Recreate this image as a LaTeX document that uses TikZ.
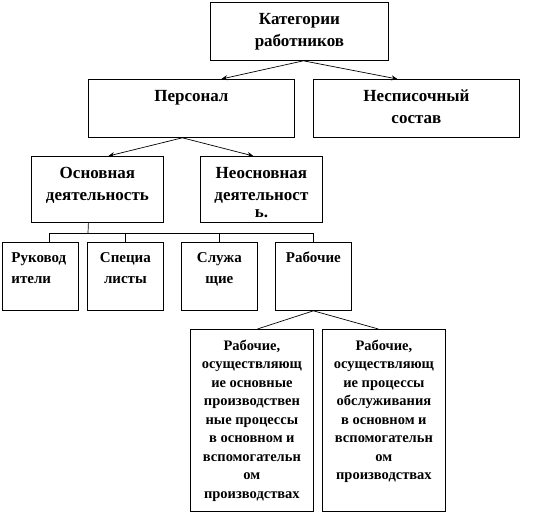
\documentclass[tikz,border=0pt]{standalone}
\usepackage{fontspec}
\setmainfont{Liberation Serif}
\usetikzlibrary{arrows.meta}
\newcommand\bt[5]{\parbox[t][#2pt][t]{#1pt}{#4\vspace*{#3pt}\strut #5}}
\newcommand\fA{\fontsize{17}{22}\selectfont\bfseries\centering}
\newcommand\fB{\fontsize{15}{21}\selectfont\bfseries\centering}
\newcommand\fC{\fontsize{14.5}{18.5}\selectfont\bfseries\centering}
\newcommand\fL{\fontsize{15}{21}\selectfont\bfseries\raggedright\leftskip=9pt}
\tikzset{
  box/.style={draw, line width=0.8pt, inner sep=0pt, anchor=north west},
  conn/.style={line width=0.7pt},
  arr/.style={conn, -{Stealth[length=6pt,width=5pt]}}
}
\begin{document}
\begin{tikzpicture}[x=1pt,y=-1pt]
\useasboundingbox (0,0) rectangle (534,515);
\node[box] (cat) at (210,2) {\bt{178}{58}{6.5}{\fA}{Категории\\работников}};
\node[box] (pers) at (88,79) {\bt{206}{58}{6.5}{\fA}{Персонал}};
\node[box] (nesp) at (313,79) {\bt{206}{58}{6.5}{\fA}{Несписочный\\состав}};
\node[box] (osn) at (31,156) {\bt{132}{66}{6.5}{\fA}{Основная\\деятельность}};
\node[box] (neosn) at (200,156) {\bt{122}{66}{6.5}{\fA}{Неосновная\\деятельност\\[-5pt]ь.}};
\node[box] (ruk) at (2,242) {\bt{76}{68}{5.7}{\fL}{Руковод\\ители}};
\node[box] (spec) at (87,242) {\bt{76}{68}{5.7}{\fB}{Специа\\листы}};
\node[box] (sluz) at (181,242) {\bt{76}{68}{5.7}{\fB}{Служа\\щие}};
\node[box] (rab) at (275,242) {\bt{76}{68}{5.7}{\fB}{Рабочие}};
\node[box] (rab1) at (190,329) {\bt{123}{182}{8}{\fC}{Рабочие,\\осуществляющ\\ие основные\\производствен\\ные процессы\\в основном и\\вспомогательн\\ом\\производствах}};
\node[box] (rab2) at (322,329) {\bt{123}{182}{8}{\fC}{Рабочие,\\осуществляющ\\ие процессы\\обслуживания\\в основном и\\вспомогательн\\ом\\производствах}};

\draw[arr] ([xshift=4pt]cat.south) -- ([xshift=30pt]pers.north);
\draw[arr] ([xshift=4pt]cat.south) -- ([xshift=-19pt]nesp.north);
\draw[arr] ([xshift=-9pt]pers.south) -- ([xshift=11pt]osn.north);
\draw[arr] ([xshift=-9pt]pers.south) -- ([xshift=-8pt]neosn.north);

\coordinate (bus) at (88,233);
\draw[conn] ([xshift=-9pt]osn.south) -- (bus);
\draw[conn] ([xshift=9pt]ruk.north) |- (rab.north |- bus) -- (rab.north);
\draw[conn] (spec.north) -- (spec.north |- bus);
\draw[conn] (sluz.north) -- (sluz.north |- bus);

\draw[conn] (rab.south) -- ([xshift=5.5pt]rab1.north);
\draw[conn] (rab.south) -- ([xshift=-5.5pt]rab2.north);
\end{tikzpicture}
\end{document}
